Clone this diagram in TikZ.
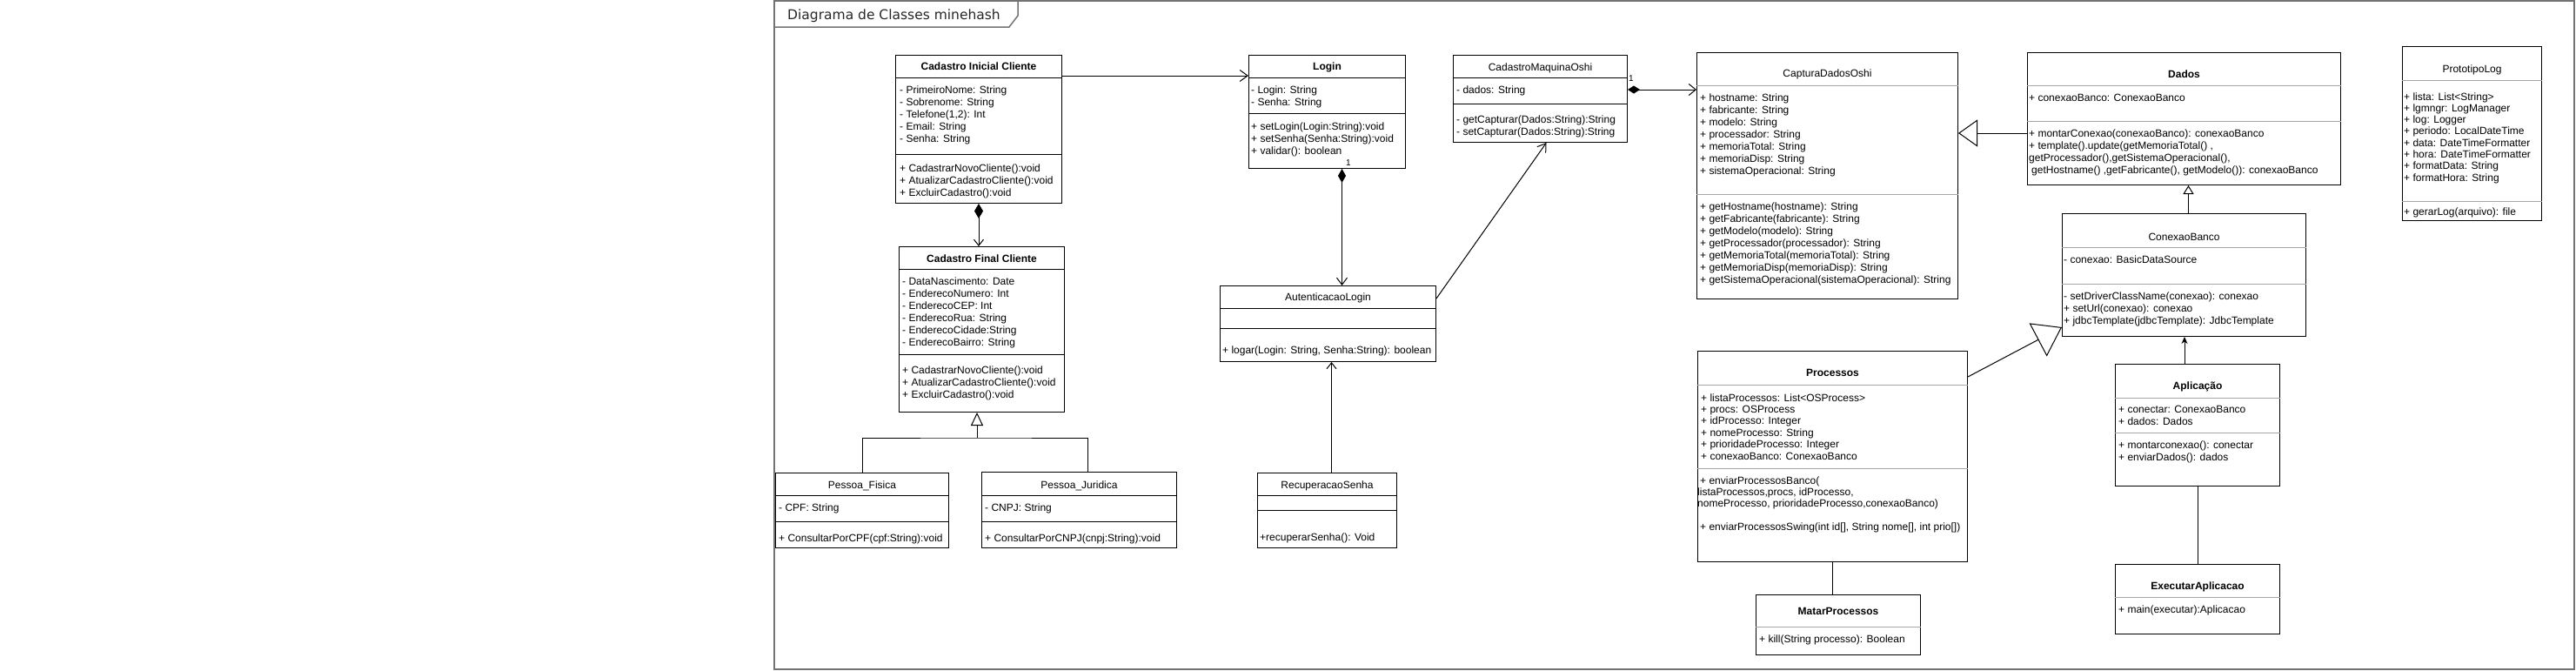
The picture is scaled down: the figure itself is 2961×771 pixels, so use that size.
\documentclass[tikz,border=0pt]{standalone}
\usepackage{fontspec}
\setmainfont{Liberation Sans}
\newfontfamily\titlefont{DejaVu Sans}
\usetikzlibrary{arrows.meta}

\newcommand{\ubox}[5]{%
  \pgfmathsetmacro\uw{#4-#2}\pgfmathsetmacro\uh{#5-#3}%
  \node[box, anchor=north west, minimum width=\uw pt, minimum height=\uh pt] (#1) at (#2,#3) {};}
\newcommand{\udiv}[3][dv]{\draw[#1] (#2.west |- 0,#3) -- (#2.east |- 0,#3);}
\newcommand{\utitle}[4][bttl]{\node[#1] (#2-t) at (#2.north |- 0,#3) {#4};}
\newcommand{\ulines}[5]{\foreach \linetext [count=\li] in {#5}{\node[txt] (#1-\li) at (#2,{#3+#4*(\li-1)}) {\linetext};}}

\begin{document}
\begin{tikzpicture}[x=1pt,y=-1pt,
  box/.style={draw=black, line width=1pt, inner sep=0pt, fill=white},
  dv/.style={line width=1pt, draw=black},
  gdv/.style={line width=1pt, draw=black!35},
  txt/.style={anchor=base west, inner sep=0pt, font=\fontsize{12}{14}\selectfont},
  ttl/.style={anchor=base, inner sep=0pt, font=\fontsize{12}{14}\selectfont},
  bttl/.style={anchor=base, inner sep=0pt, font=\fontsize{12}{14}\selectfont\bfseries},
  conn/.style={line width=1pt, draw=black},
  frm/.style={line width=1.5pt, draw=black!55},
  mult/.style={anchor=base west, inner sep=0pt, font=\fontsize{10}{12}\selectfont}
]
\useasboundingbox (0,0) rectangle (2961,771);

% frame
\draw[frm] (890,1) rectangle (2959,769);
\draw[frm] (890,31) -- (1160,31) -- (1170,18) -- (1170,1);
\node[anchor=base west, inner sep=0pt, font=\titlefont\fontsize{15.5}{18}\selectfont, text=black!85] (ftitle) at (905,23) {Diagrama de Classes minehash};

% Cadastro Inicial Cliente
\ubox{cic}{1029}{63}{1220}{233}
\udiv{cic}{89}\udiv{cic}{177}
\utitle{cic}{80}{Cadastro Inicial Cliente}
\ulines{cica}{1034}{107}{14}{- PrimeiroNome: String,- Sobrenome: String,{- Telefone(1,2): Int},- Email: String,- Senha: String}
\ulines{cicm}{1034}{197}{14}{+ CadastrarNovoCliente():void,+ AtualizarCadastroCliente():void,+ ExcluirCadastro():void}

% Cadastro Final Cliente
\ubox{cfc}{1033}{283}{1223}{473}
\udiv{cfc}{309}\udiv{cfc}{407}
\utitle{cfc}{301}{Cadastro Final Cliente}
\ulines{cfca}{1037}{327}{14}{- DataNascimento: Date,- EnderecoNumero: Int,- EnderecoCEP: Int,- EnderecoRua: String,- EnderecoCidade:String,- EnderecoBairro: String}
\ulines{cfcm}{1037}{429}{14}{+ CadastrarNovoCliente():void,+ AtualizarCadastroCliente():void,+ ExcluirCadastro():void}

% Pessoa_Fisica
\ubox{pf}{891}{543}{1090}{629}
\udiv{pf}{569}\udiv{pf}{599}
\utitle[ttl]{pf}{561}{Pessoa\_Fisica}
\node[txt] (pfa) at (895,587) {- CPF: String};
\node[txt] (pfm) at (895,622) {+ ConsultarPorCPF(cpf:String):void};

% Pessoa_Juridica
\ubox{pj}{1128}{542}{1352}{629}
\udiv{pj}{569}\udiv{pj}{599}
\utitle[ttl]{pj}{561}{Pessoa\_Juridica}
\node[txt] (pja) at (1132,587) {- CNPJ: String};
\node[txt] (pjm) at (1132,622) {+ ConsultarPorCNPJ(cnpj:String):void};

% Login
\ubox{login}{1435}{63}{1615}{193}
\udiv{login}{89}\udiv{login}{130}
\utitle{login}{80}{Login}
\ulines{loga}{1438}{107}{14}{- Login: String,- Senha: String}
\ulines{logm}{1438}{149}{14}{+ setLogin(Login:String):void,+ setSenha(Senha:String):void,+ validar(): boolean}

% AutenticacaoLogin
\ubox{aut}{1402}{328}{1650}{415}
\udiv{aut}{354}\udiv{aut}{377}
\utitle[ttl]{aut}{345}{AutenticacaoLogin}
\node[txt] (autm) at (1405,406) {+ logar(Login: String, Senha:String): boolean};

% RecuperacaoSenha
\ubox{rec}{1445}{543}{1605}{629}
\udiv{rec}{569}\udiv{rec}{586}
\utitle[ttl]{rec}{561}{RecuperacaoSenha}
\node[txt] (recm) at (1448,621) {+recuperarSenha(): Void};

% CadastroMaquinaOshi
\ubox{cmo}{1670}{63}{1870}{163}
\udiv{cmo}{89}\udiv{cmo}{119}
\utitle[ttl]{cmo}{81}{CadastroMaquinaOshi}
\node[txt] (cmoa) at (1674,107) {- dados: String};
\ulines{cmom}{1674}{141}{14}{- getCapturar(Dados:String):String,- setCapturar(Dados:String):String}

% CapturaDadosOshi
\ubox{cdo}{1950}{60}{2250}{343}
\udiv[gdv]{cdo}{98}\udiv[gdv]{cdo}{223}
\utitle[ttl]{cdo}{88}{CapturaDadosOshi}
\ulines{cdoa}{1954}{116}{14}{+ hostname: String,+ fabricante: String,+ modelo: String,+ processador: String,+ memoriaTotal: String,+ memoriaDisp: String,+ sistemaOperacional: String}
\ulines{cdom}{1954}{241}{14}{+ getHostname(hostname): String,+ getFabricante(fabricante): String,+ getModelo(modelo): String,+ getProcessador(processador): String,+ getMemoriaTotal(memoriaTotal): String,+ getMemoriaDisp(memoriaDisp): String,+ getSistemaOperacional(sistemaOperacional): String}

% Dados
\ubox{dados}{2330}{60}{2690}{212}
\udiv[gdv]{dados}{98}\udiv[gdv]{dados}{139}
\utitle{dados}{89}{Dados}
\node[txt] (dadosa) at (2332,116) {+ conexaoBanco: ConexaoBanco};
\ulines{dadosm}{2332}{157}{14}{+ montarConexao(conexaoBanco): conexaoBanco,{+ template().update(getMemoriaTotal() ,},{getProcessador(),getSistemaOperacional(),},{\hspace{3pt}getHostname() ,getFabricante(), getModelo()): conexaoBanco}}

% ConexaoBanco
\ubox{cb}{2370}{245}{2650}{386}
\udiv[gdv]{cb}{284}\udiv[gdv]{cb}{326}
\utitle[ttl]{cb}{276}{ConexaoBanco}
\node[txt] (cba) at (2372,302) {- conexao: BasicDataSource};
\ulines{cbm}{2372}{344}{14}{- setDriverClassName(conexao): conexao,+ setUrl(conexao): conexao,+ jdbcTemplate(jdbcTemplate): JdbcTemplate}

% Processos
\ubox{proc}{1951}{403}{2261}{645}
\udiv[gdv]{proc}{442}\udiv[gdv]{proc}{538}
\utitle{proc}{432}{Processos}
\ulines{proca}{1955}{461}{13.4}{+ listaProcessos: List<OSProcess>,+ procs: OSProcess,+ idProcesso: Integer,+ nomeProcesso: String,+ prioridadeProcesso: Integer,+ conexaoBanco: ConexaoBanco}
\node[txt] (procm-1) at (1954,556) {+ enviarProcessosBanco(};
\node[txt] (procm-2) at (1951,569.4) {listaProcessos,procs, idProcesso,};
\node[txt] (procm-3) at (1951,582.8) {nomeProcesso, prioridadeProcesso,conexaoBanco)};
\node[txt] (procm-4) at (1954,609) {+ enviarProcessosSwing(int id[], String nome[], int prio[])};

% MatarProcessos
\ubox{mat}{2018}{683}{2207}{752}
\udiv[gdv]{mat}{720}
\utitle{mat}{706}{MatarProcessos}
\node[txt] (matm) at (2022,738) {+ kill(String processo): Boolean};

% Aplicacao
\ubox{apl}{2431}{418}{2620}{558}
\udiv[gdv]{apl}{457}\udiv[gdv]{apl}{497}
\utitle{apl}{447}{Aplicação}
\ulines{apla}{2435}{474}{14}{+ conectar: ConexaoBanco,+ dados: Dados}
\ulines{aplm}{2435}{515}{14}{+ montarconexao(): conectar,+ enviarDados(): dados}

% ExecutarAplicacao
\ubox{exe}{2431}{648}{2620}{728}
\udiv[gdv]{exe}{686}
\utitle{exe}{677}{ExecutarAplicacao}
\node[txt] (exem) at (2435,704) {+ main(executar):Aplicacao};

% PrototipoLog
\ubox{plog}{2761}{53}{2921}{253}
\udiv[gdv]{plog}{92}\udiv[gdv]{plog}{231}
\utitle[ttl]{plog}{83}{PrototipoLog}
\ulines{ploga}{2763}{115}{13.3}{+ lista: List<String>,+ lgmngr: LogManager,+ log: Logger,+ periodo: LocalDateTime,+ data: DateTimeFormatter,+ hora: DateTimeFormatter,+ formatData: String,+ formatHora: String}
\node[txt] (plogm) at (2763,247) {+ gerarLog(arquivo): file};

% connectors
\draw[conn, -{Straight Barb[length=9pt,width=13pt]}] (cic.east |- 0,87) -- (login.west |- 0,87);
\draw[conn, {Diamond[length=17pt,width=10pt]}-{Straight Barb[length=7pt,width=11pt]}] (cic.south) -- (cic.south |- cfc.north);
\coordinate (gj) at (1123,503);
\draw[conn, -{Triangle[open,length=15pt,width=14pt]}] (gj) -- (gj |- cfc.south);
\draw[conn] (pf.north) |- (gj) -| ([xshift=10pt]pj.north);
\draw[conn, {Diamond[length=16pt,width=9pt]}-{Straight Barb[length=8pt,width=12pt]}] ([xshift=17pt]login.south) -- ([xshift=17pt]login.south |- aut.north);
\node[mult] (mult-login) at (1547,190) {1};
\draw[conn, -{Straight Barb[length=9pt,width=12pt]}] ([yshift=-15pt]aut.north east) -- ([xshift=7pt]cmo.south);
\draw[conn, -{Straight Barb[length=7pt,width=11pt]}] ([xshift=5pt]rec.north) -- ([xshift=5pt]rec.north |- aut.south);
\draw[conn, {Diamond[length=14pt,width=9pt]}-{Straight Barb[length=8pt,width=13pt]}] (cmo.east |- 0,103) -- (cdo.west |- 0,103);
\node[mult] (mult-cmo) at (1872,93) {1};
\draw[conn, -{Triangle[open,length=22pt,width=31pt]}] (dados.west |- 0,153) -- (cdo.east |- 0,153);
\draw[conn, -{Triangle[open,length=10pt,width=12pt]}] ([xshift=5pt]cb.north) -- ([xshift=5pt]cb.north |- dados.south);
\draw[conn, -{Triangle[open,length=31pt,width=43pt]}] ([yshift=-30pt]proc.north east) -- ([yshift=11pt]cb.south west);
\draw[conn, -{Stealth[length=8pt,width=7pt]}] ([xshift=-15pt]apl.north) -- ([xshift=-15pt]apl.north |- cb.south);
\draw[conn] (apl.south) -- (apl.south |- exe.north);
\draw[conn] (proc.south) -- (proc.south |- mat.north);
\end{tikzpicture}
\end{document}
